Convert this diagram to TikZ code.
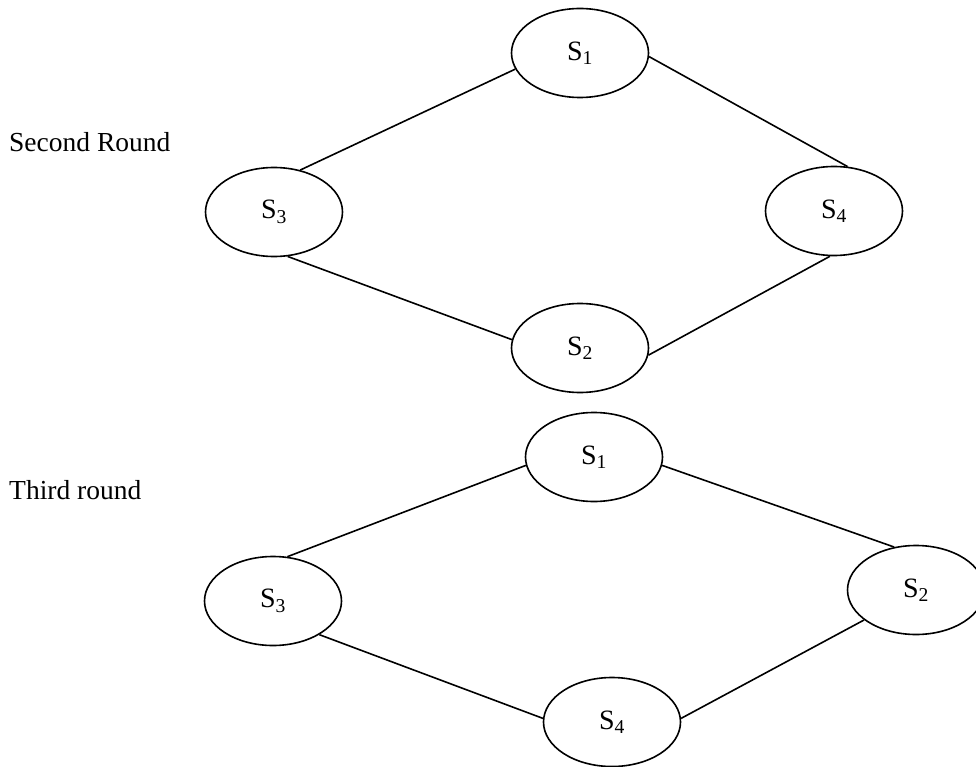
\documentclass[tikz,border=0pt]{standalone}
\usepackage{fontspec}
\setmainfont{Liberation Serif}
\usetikzlibrary{shapes.geometric}
\begin{document}
\begin{tikzpicture}[x=1pt,y=-1pt,
  st/.style={draw, ellipse, line width=1.6pt, minimum width=137pt, minimum height=89pt, inner sep=0pt, font=\fontsize{28}{33}\selectfont},
  edge/.style={line width=1.6pt},
  lbl/.style={anchor=base west, inner sep=0pt, font=\fontsize{27.5}{33}\selectfont}]
\useasboundingbox (0,0) rectangle (976,767);
% labels
\node[lbl] (l2) at (9,152) {Second Round};
\node[lbl] (l3) at (9,499) {Third round};
% second round
\node[st] (a1) at (580,53) {S\textsubscript{1}};
\node[st] (a3) at (274,212) {S\textsubscript{3}};
\node[st] (a4) at (834,211) {S\textsubscript{4}};
\node[st] (a2) at (580,348) {S\textsubscript{2}};
\draw[edge] (a1.194) -- (a3.58);
\draw[edge] (a1.357) -- (a4.73);
\draw[edge] (a3.287) -- (a2.173);
\draw[edge] (a4.265) -- (a2.354);
% third round
\node[st] (b1) at (594,457) {S\textsubscript{1}};
\node[st] (b3) at (273,601) {S\textsubscript{3}};
\node[st] (b2) at (916,590) {S\textsubscript{2}};
\node[st] (b4) at (612,722) {S\textsubscript{4}};
\draw[edge] (b1.187) -- (b3.72);
\draw[edge] (b1.353) -- (b2.117);
\draw[edge] (b3.324) -- (b4.177);
\draw[edge] (b4.3) -- (b2.210);
\end{tikzpicture}
\end{document}
